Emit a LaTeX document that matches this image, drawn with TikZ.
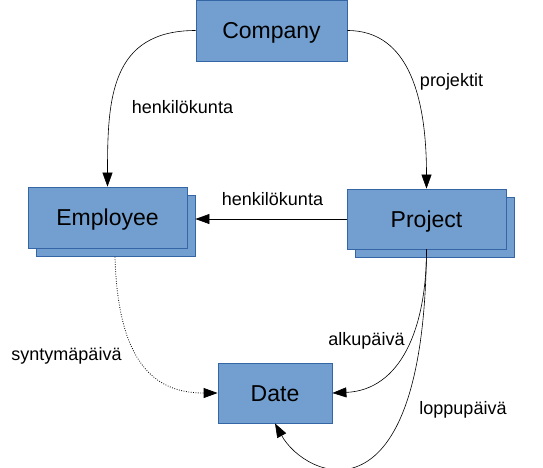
\documentclass[tikz,border=0pt]{standalone}
\usepackage{fontspec}
\setmainfont{Liberation Sans}
\usetikzlibrary{arrows.meta,shadows,calc}
\definecolor{boxfill}{HTML}{729FCF}
\definecolor{boxline}{HTML}{3465A4}
\tikzset{
  entity/.style={draw=boxline, fill=boxfill, line width=0.8pt, inner sep=0pt,
    text height=16pt, text depth=0pt,
    font=\fontsize{23}{27}\selectfont},
  multi/.style={entity, copy shadow={shadow xshift=8pt, shadow yshift=-8.5pt, draw=boxline, fill=boxfill}},
  lbl/.style={anchor=base, inner sep=0pt, font=\fontsize{18}{21}\selectfont},
  conn/.style={line width=0.6pt, -{Triangle[length=14pt,width=10pt]}}
}
\begin{document}
\begin{tikzpicture}[x=1pt,y=-1pt]
\useasboundingbox (0,0) rectangle (543,467);
\node[entity, minimum width=151pt, minimum height=61pt] (Company) at (271.5,30.5) {Company};
\node[multi, minimum width=159pt, minimum height=61pt] (Employee) at (107.5,217.5) {Employee};
\node[multi, minimum width=159pt, minimum height=60pt] (Project) at (426.5,219) {Project};
\node[entity, minimum width=114pt, minimum height=60pt] (Date) at (275,393) {Date};
\coordinate (es) at ($(Employee.east)+(8,0)$);
\coordinate (eb) at ($(Employee.south)+(7.5,8.5)$);

\draw[conn] (Company.west) .. controls (110,30.5) and (107.5,100) .. (Employee.north);
\draw[conn] (Company.east) .. controls (410,30.5) and (426.5,100) .. (Project.north);
\draw[conn] (Project.west) -- (Project.west -| es);
\draw[conn, line width=0.8pt, dash pattern=on 0.8pt off 1.6pt] (eb) .. controls (118,370) and (160,393) .. (Date.west);
\draw[conn] (Project.south) .. controls (426.5,330) and (400,390) .. (Date.east);
\draw[conn] (Project.south) .. controls (424,532) and (305,478) .. (Date.south);

\node[lbl] (l1) at (182.5,113) {henkilökunta};
\node[lbl] (l2) at (272.5,205) {henkilökunta};
\node[lbl] (l3) at (451.5,86.7) {projektit};
\node[lbl] (l4) at (66.5,360.7) {syntymäpäivä};
\node[lbl] (l5) at (366.5,345) {alkupäivä};
\node[lbl] (l6) at (463,414) {loppupäivä};
\end{tikzpicture}
\end{document}
